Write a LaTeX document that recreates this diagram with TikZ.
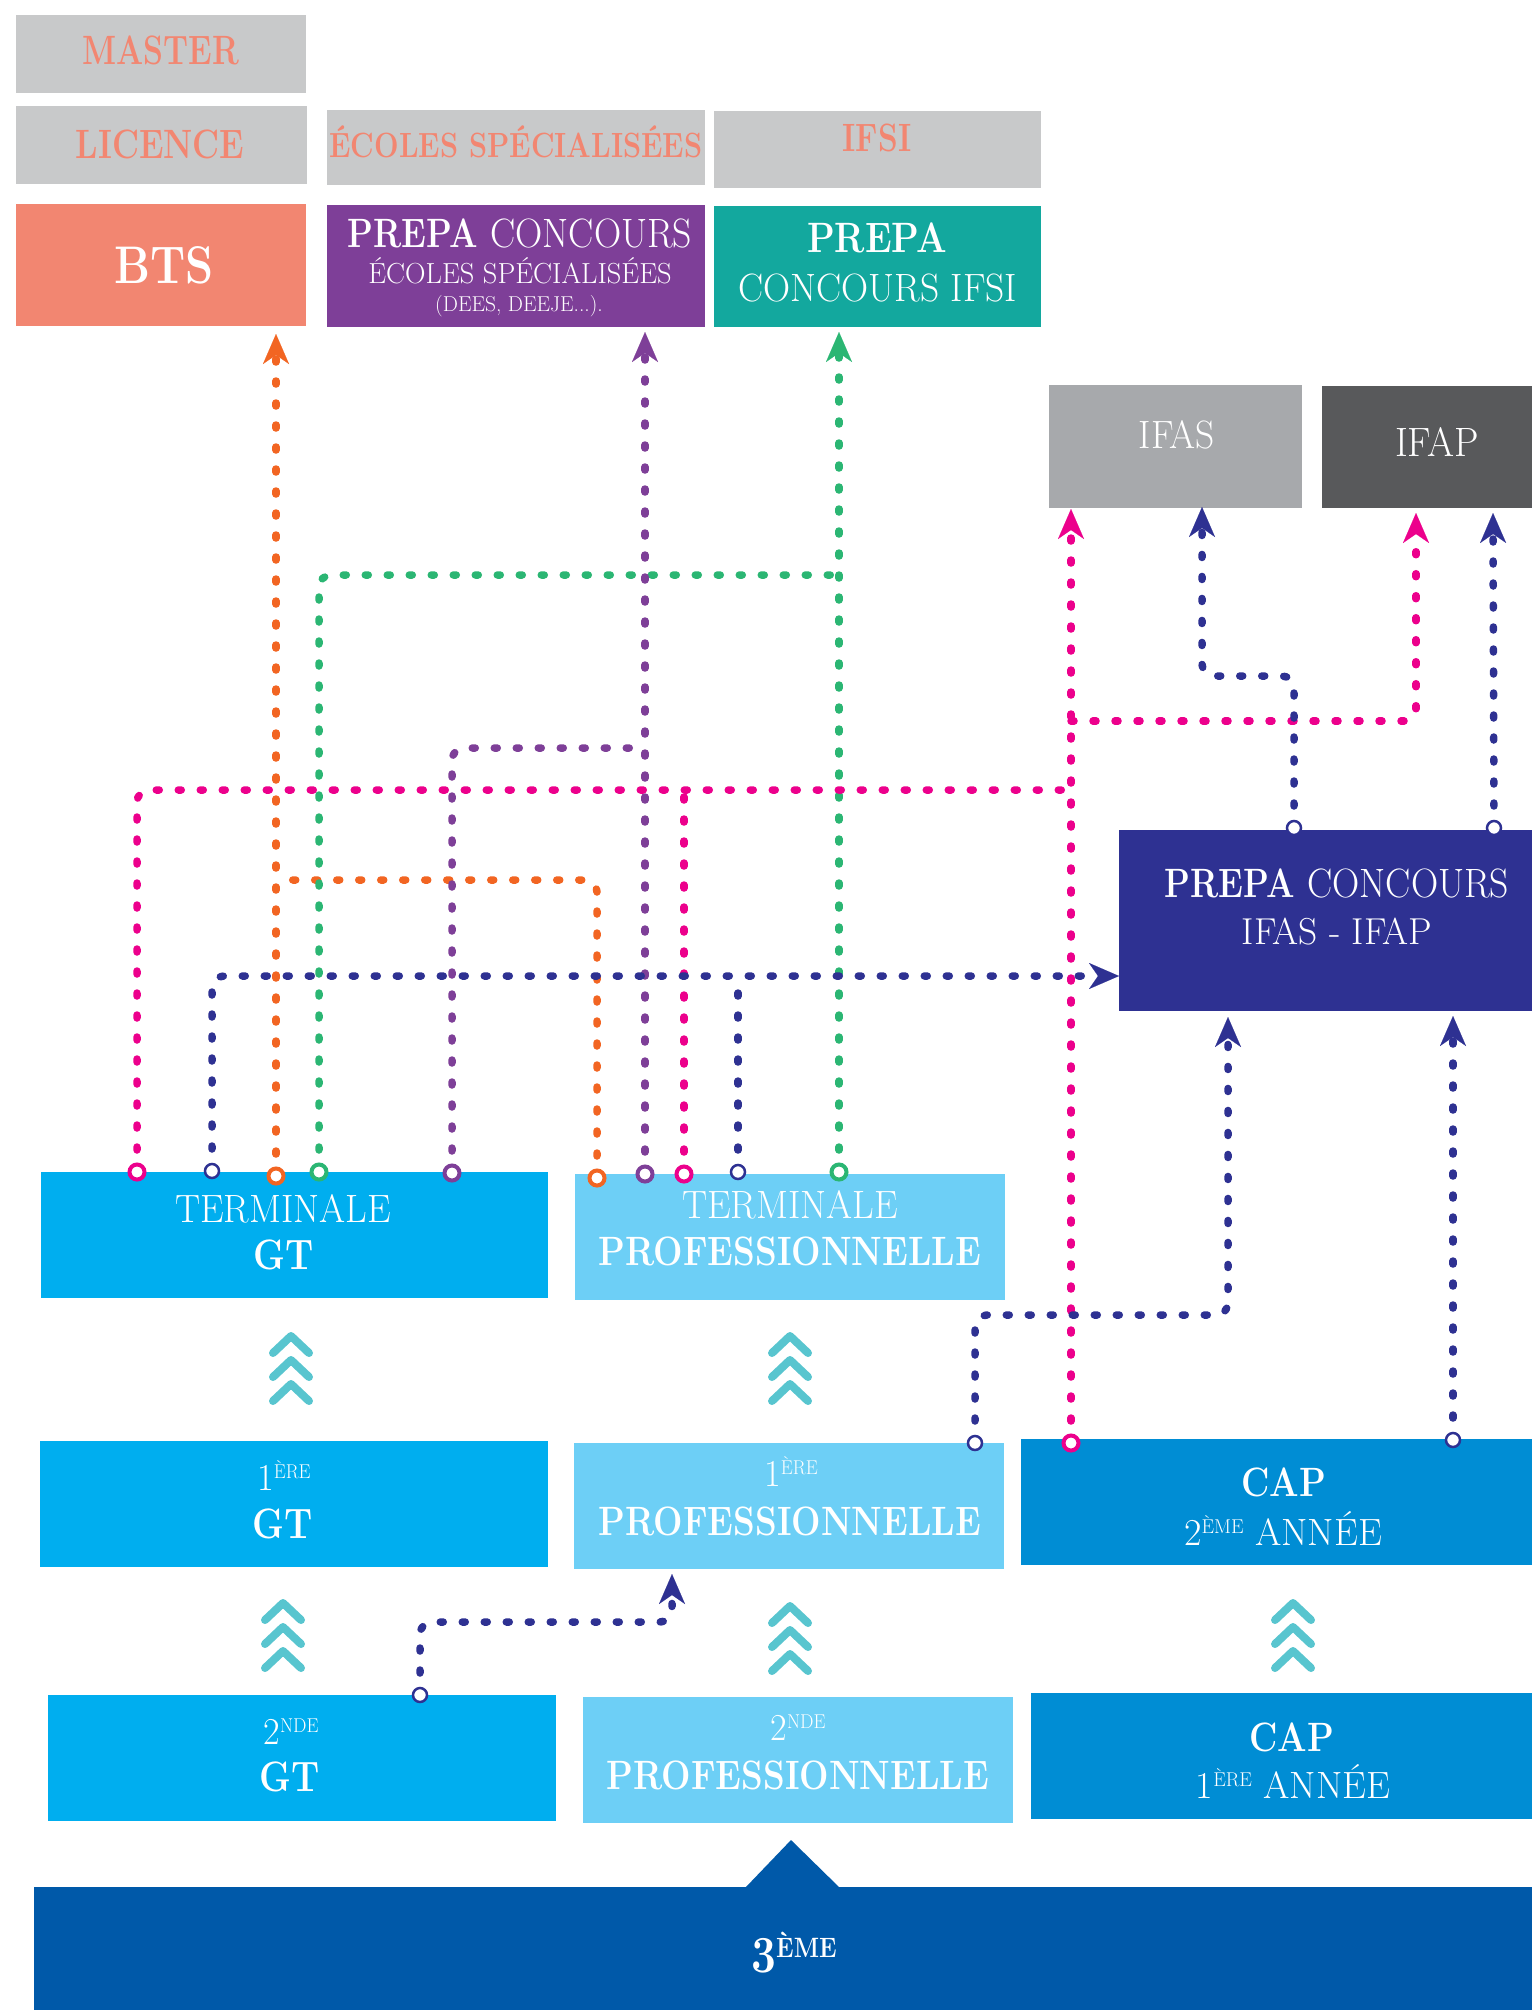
\documentclass[tikz,border=0pt]{standalone}
\usepackage{graphicx}
\usetikzlibrary{arrows.meta}
\definecolor{gry}{HTML}{C8C9CA}
\definecolor{salm}{HTML}{F28671}
\definecolor{purp}{HTML}{7E3F98}
\definecolor{tealb}{HTML}{13A89E}
\definecolor{ifasg}{HTML}{A7A9AC}
\definecolor{ifapg}{HTML}{58595B}
\definecolor{navyb}{HTML}{2E3192}
\definecolor{cyanA}{HTML}{00AEEF}
\definecolor{cyanB}{HTML}{6DCFF6}
\definecolor{capb}{HTML}{008DD4}
\definecolor{troisb}{HTML}{0059A9}
\definecolor{chevcol}{HTML}{58C5CF}
\definecolor{lorange}{HTML}{F26522}
\definecolor{lpurple}{HTML}{7E3F98}
\definecolor{lgreen}{HTML}{2BB673}
\definecolor{lpink}{HTML}{EC008C}
\definecolor{lnavy}{HTML}{2E3192}
\newcommand\RG[2][0.95]{\scalebox{#1}[1]{#2}}
\newcommand\BD[2][0.85]{\scalebox{#1}[1]{\bfseries #2}}
\newcommand\Sp[3]{\raisebox{#1pt}{\fontsize{#2}{#2}\selectfont #3}}
\newcommand\bx[6]{\node[box,fill=#2,minimum width={(#5-#3)*1pt},minimum height={(#6-#4)*1pt}] (#1) at ({(#3+#5)/2},{(#4+#6)/2}) {};}
\begin{document}
\begin{tikzpicture}[x=1pt,y=-1pt,
  box/.style={rectangle,inner sep=0pt,outer sep=0pt,draw=none},
  txt/.style={inner sep=0pt,outer sep=0pt,anchor=base,text=white},
  route/.style={line width=7.5pt,line cap=round,line join=round,dash pattern=on 3pt off 19pt,rounded corners=12pt},
  arrowto/.style={-{Stealth[length=30pt,width=26pt,inset=9pt,line width=0.1pt]}},
  ring/.style={circle,fill=white,line width=4pt,minimum size=15pt,inner sep=0pt},
  nring/.style={circle,fill=white,draw=lnavy,line width=2.5pt,minimum size=14pt,inner sep=0pt},
  chev/.style={draw=chevcol,line width=8pt,line cap=round,line join=round}]
\useasboundingbox[fill=white] (0,0) rectangle (1532,2010);
% boxes
\bx{master}{gry}{16}{15}{306}{93}
\bx{licence}{gry}{16}{106}{307}{184}
\bx{ecoles}{gry}{327}{110}{705}{185}
\bx{ifsi}{gry}{714}{111}{1041}{188}
\bx{bts}{salm}{16}{204}{306}{326}
\bx{prepaE}{purp}{327}{205}{705}{327}
\bx{prepaI}{tealb}{714}{206}{1041}{327}
\bx{ifas}{ifasg}{1049}{385}{1302}{508}
\bx{ifap}{ifapg}{1322}{386}{1532}{508}
\bx{prepaF}{navyb}{1119}{830}{1532}{1011}
\bx{termGT}{cyanA}{41}{1172}{548}{1298}
\bx{termPro}{cyanB}{575}{1174}{1005}{1300}
\bx{gtA}{cyanA}{40}{1441}{548}{1567}
\bx{proA}{cyanB}{574}{1443}{1004}{1569}
\bx{capA}{capb}{1021}{1439}{1532}{1565}
\bx{gtB}{cyanA}{48}{1695}{556}{1821}
\bx{proB}{cyanB}{583}{1697}{1013}{1823}
\bx{capB}{capb}{1031}{1693}{1532}{1819}
\bx{trois}{troisb}{34}{1887}{1532}{2012}
\path[fill=troisb] (745,1888) -- (791,1840) -- (840,1888) -- cycle;
% chevrons
\foreach \cx/\ay in {291/1336,790/1336,283/1603,790/1606,1293/1603}{
  \foreach \k in {0,1,2}{
    \draw[chev] ({\cx-18},{\ay+24*\k+17}) -- (\cx,{\ay+24*\k}) -- ({\cx+18},{\ay+24*\k+17});
  }
}
% texts
\node[txt,text=salm,font=\fontsize{41}{41}\selectfont] (tMaster) at (161,65) {\BD[0.78]{MASTER}};
\node[txt,text=salm,font=\fontsize{41}{41}\selectfont] (tLicence) at (160,158) {\BD[0.81]{LICENCE}};
\node[txt,text=salm,font=\fontsize{35}{35}\selectfont] (tEcoles) at (516,157) {\BD[0.83]{ÉCOLES SPÉCIALISÉES}};
\node[txt,text=salm,font=\fontsize{39.5}{39.5}\selectfont] (tIfsi) at (877,151) {\BD[0.8]{IFSI}};
\node[txt,font=\fontsize{53}{53}\selectfont] (tBts) at (164,283) {\BD{BTS}};
\node[txt,font=\fontsize{41}{41}\selectfont] (tPrepaE1) at (520,247) {\BD[0.82]{PREPA} \RG[0.92]{CONCOURS}};
\node[txt,font=\fontsize{29}{29}\selectfont] (tPrepaE2) at (520,283) {\RG[0.98]{ÉCOLES SPÉCIALISÉES}};
\node[txt,font=\fontsize{21.5}{21.5}\selectfont] (tPrepaE3) at (519,311) {\RG[1]{(DEES, DEEJE...).}};
\node[txt,font=\fontsize{42.5}{42.5}\selectfont] (tPrepaI1) at (877,252) {\BD{PREPA}};
\node[txt,font=\fontsize{39.5}{39.5}\selectfont] (tPrepaI2) at (878,301) {\RG{CONCOURS IFSI}};
\node[txt,font=\fontsize{39.5}{39.5}\selectfont] (tIfas) at (1177,448) {\RG{IFAS}};
\node[txt,font=\fontsize{41}{41}\selectfont] (tIfap) at (1437,456) {\RG{IFAP}};
\node[txt,font=\fontsize{41}{41}\selectfont] (tPrepaF1) at (1337,897) {\BD[0.82]{PREPA} \RG[0.92]{CONCOURS}};
\node[txt,font=\fontsize{37.5}{37.5}\selectfont] (tPrepaF2) at (1337,944) {\RG[1]{IFAS - IFAP}};
\node[txt,font=\fontsize{39.5}{39.5}\selectfont] (tTermGT1) at (283,1222) {\RG{TERMINALE}};
\node[txt,font=\fontsize{42.5}{42.5}\selectfont] (tTermGT2) at (284,1269) {\BD{GT}};
\node[txt,font=\fontsize{39.5}{39.5}\selectfont] (tTermPro1) at (790,1218) {\RG{TERMINALE}};
\node[txt,font=\fontsize{41}{41}\selectfont] (tTermPro2) at (790,1265) {\BD{PROFESSIONNELLE}};
\node[txt,font=\fontsize{38}{38}\selectfont] (tGtA1) at (284,1490) {\RG{1\Sp{12}{20}{ÈRE}}};
\node[txt,font=\fontsize{42.5}{42.5}\selectfont] (tGtA2) at (283,1538) {\BD{GT}};
\node[txt,font=\fontsize{38}{38}\selectfont] (tProA1) at (791,1486) {\RG{1\Sp{12}{20}{ÈRE}}};
\node[txt,font=\fontsize{41}{41}\selectfont] (tProA2) at (790,1535) {\BD{PROFESSIONNELLE}};
\node[txt,font=\fontsize{41}{41}\selectfont] (tCapA1) at (1284,1496) {\BD{CAP}};
\node[txt,font=\fontsize{38}{38}\selectfont] (tCapA2) at (1283,1545) {\RG[1]{2\Sp{12}{20}{ÈME} ANNÉE}};
\node[txt,font=\fontsize{38}{38}\selectfont] (tGtB1) at (291,1744) {\RG{2\Sp{12}{20}{NDE}}};
\node[txt,font=\fontsize{42.5}{42.5}\selectfont] (tGtB2) at (290,1791) {\BD{GT}};
\node[txt,font=\fontsize{38}{38}\selectfont] (tProB1) at (798,1740) {\RG{2\Sp{12}{20}{NDE}}};
\node[txt,font=\fontsize{41}{41}\selectfont] (tProB2) at (798,1789) {\BD{PROFESSIONNELLE}};
\node[txt,font=\fontsize{41}{41}\selectfont] (tCapB1) at (1292,1751) {\BD{CAP}};
\node[txt,font=\fontsize{38}{38}\selectfont] (tCapB2) at (1293,1798) {\RG[1]{1\Sp{12}{20}{ÈRE} ANNÉE}};
\node[txt,font=\fontsize{28}{28}\selectfont] (tTrois) at (794,1957) {\BD{\raisebox{-15pt}{\fontsize{52}{52}\selectfont 3}ÈME}};
% start points
\coordinate (oTc) at (276,1176); \coordinate (oPc) at (597,1178);
\coordinate (gTc) at (319,1172); \coordinate (gPc) at (839,1172);
\coordinate (pTc) at (452,1173); \coordinate (pPc) at (645,1174);
\coordinate (kTc) at (137,1172); \coordinate (kPc) at (684,1174);
\coordinate (kCc) at (1071,1443);
\coordinate (nTc) at (212,1171); \coordinate (nPc) at (738,1172);
\coordinate (n1c) at (975,1443); \coordinate (nCc) at (1453,1440);
\coordinate (n2c) at (420,1695); \coordinate (nAc) at (1294,828);
\coordinate (nBc) at (1494,828);
% ends
\coordinate (btsIn) at (276,334);
\coordinate (oJoin) at (276,880);
\coordinate (gJoin) at (839,575);
\coordinate (ifsiIn) at (839,332);
\coordinate (pJoin) at (645,748);
\coordinate (ecoIn) at (645,332);
\coordinate (kJoin) at (1071,790);
\coordinate (kB) at (1071,721);
\coordinate (ifasInK) at (1071,509);
\coordinate (ifapInK) at (1416,513);
\coordinate (prepaFIn) at (1119,976);
\coordinate (prepaFInL) at (1228,1017);
\coordinate (prepaFInR) at (1453,1016);
\coordinate (proAIn) at (672,1574);
\coordinate (ifasInN) at (1202,507);
\coordinate (ifapInN) at (1493,513);
% routes
\draw[route,lorange,arrowto] (oTc) -- (btsIn);
\draw[route,lorange] (oPc) |- (oJoin);
\draw[route,lgreen,arrowto] (gPc) -- (ifsiIn);
\draw[route,lgreen] (gTc) |- (gJoin);
\draw[route,lpurple,arrowto] (pPc) -- (ecoIn);
\draw[route,lpurple] (pTc) |- (pJoin);
\draw[route,lpink] (kTc) |- (kJoin);
\draw[route,lpink] (kPc) -- (kPc |- kJoin);
\draw[route,lpink,arrowto] (kCc) -- (ifasInK);
\draw[route,lpink,arrowto] (kB) -| (ifapInK);
\draw[route,lnavy,arrowto] (nTc) |- (prepaFIn);
\draw[route,lnavy] (nPc) -- (nPc |- prepaFIn);
\draw[route,lnavy,arrowto] (n1c) -- ++(0,-128) -| (prepaFInL);
\draw[route,lnavy,arrowto] (nCc) -- (prepaFInR);
\draw[route,lnavy,arrowto] (n2c) -- ++(0,-73) -| (proAIn);
\draw[route,lnavy,arrowto] (nAc) -- ++(0,-152) -| (ifasInN);
\draw[route,lnavy,arrowto] (nBc) -- (ifapInN);
% rings
\node[ring,draw=lorange] (oT) at (oTc) {};
\node[ring,draw=lorange] (oP) at (oPc) {};
\node[ring,draw=lgreen] (gT) at (gTc) {};
\node[ring,draw=lgreen] (gP) at (gPc) {};
\node[ring,draw=lpurple] (pT) at (pTc) {};
\node[ring,draw=lpurple] (pP) at (pPc) {};
\node[ring,draw=lpink] (kT) at (kTc) {};
\node[ring,draw=lpink] (kP) at (kPc) {};
\node[ring,draw=lpink] (kC) at (kCc) {};
\node[nring] (nT) at (nTc) {};
\node[nring] (nP) at (nPc) {};
\node[nring] (n1) at (n1c) {};
\node[nring] (nC) at (nCc) {};
\node[nring] (n2) at (n2c) {};
\node[nring] (nA) at (nAc) {};
\node[nring] (nB) at (nBc) {};
\end{tikzpicture}
\end{document}
